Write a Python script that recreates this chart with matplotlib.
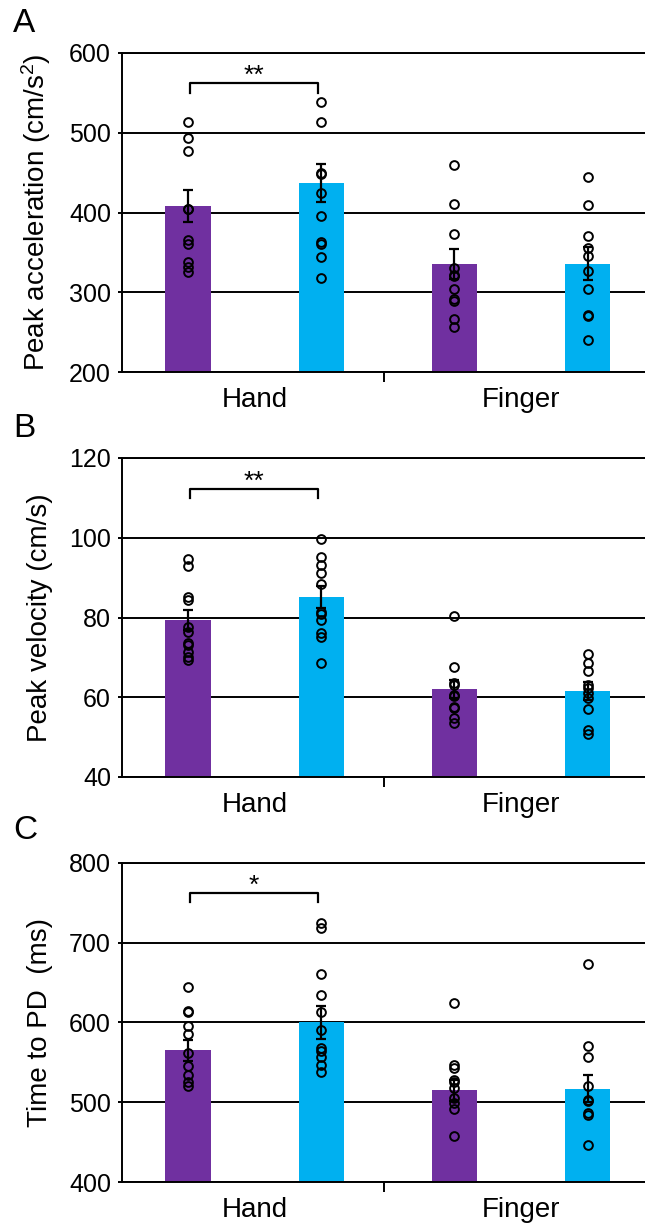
import numpy as np
import matplotlib
import matplotlib.pyplot as plt

matplotlib.use("Agg")

plt.rcParams["font.family"] = ["Liberation Sans", "DejaVu Sans"]
plt.rcParams["mathtext.default"] = "regular"

PURPLE = "#7030A0"
BLUE = "#00B0F0"

categories = ["Hand", "Finger"]

# panel A: peak acceleration (cm/s^2)
acc_means = [408, 437, 335, 336]
acc_sems = [20, 24, 19, 21]
acc_points = [
    [514, 493, 477, 405, 404, 365, 360, 338, 332, 326],
    [538, 513, 450, 448, 424, 395, 363, 360, 344, 318],
    [459, 411, 373, 330, 322, 320, 304, 291, 289, 266, 257],
    [445, 409, 370, 356, 346, 327, 304, 271, 270, 240],
]

# panel B: peak velocity (cm/s)
vel_means = [79.3, 85.2, 62.0, 61.5]
vel_sems = [2.5, 2.7, 2.3, 2.3]
vel_points = [
    [94.7, 92.9, 85.2, 84.5, 77.7, 76.4, 73.5, 73.1, 71.4, 70.2, 69.3],
    [99.6, 95.1, 93.2, 91.1, 88.4, 81.5, 80.9, 79.4, 76.2, 75.0, 68.5],
    [80.5, 67.5, 63.5, 63.1, 60.6, 60.2, 57.6, 57.4, 54.7, 53.6],
    [70.8, 68.7, 66.7, 63.1, 62.2, 61.1, 59.7, 57.0, 51.8, 50.8],
]

# panel C: time to PD (ms)
tpd_means = [565, 600, 515, 517]
tpd_sems = [13, 21, 13, 17]
tpd_points = [
    [645, 614, 613, 595, 585, 562, 545, 534, 525, 520],
    [725, 718, 661, 634, 613, 590, 568, 564, 557, 547, 538],
    [624, 547, 543, 528, 525, 518, 505, 499, 491, 458],
    [673, 570, 557, 520, 503, 501, 486, 484, 447],
]

panels = [
    dict(letter="A", ylabel="Peak acceleration (cm/s$^{2}$)", means=acc_means, sems=acc_sems,
         points=acc_points, ylim=(200, 600), yticks=[200, 300, 400, 500, 600],
         sig="**", br_top=562, br_low=550),
    dict(letter="B", ylabel="Peak velocity (cm/s)", means=vel_means, sems=vel_sems,
         points=vel_points, ylim=(40, 120), yticks=[40, 60, 80, 100, 120],
         sig="**", br_top=112.3, br_low=110),
    dict(letter="C", ylabel="Time to PD  (ms)", means=tpd_means, sems=tpd_sems,
         points=tpd_points, ylim=(400, 800), yticks=[400, 500, 600, 700, 800],
         sig="*", br_top=762, br_low=751),
]

W, H = 645, 1226
fig = plt.figure(figsize=(W / 100, H / 100), dpi=100)

tops = [53, 458, 863]
letter_tops = [8, 413, 815]
ax_h = 319
x = np.arange(4)
colors = [PURPLE, BLUE, PURPLE, BLUE]

for p, top, ltop in zip(panels, tops, letter_tops):
    ax = fig.add_axes([122 / W, 1 - (top + ax_h) / H, 523 / W, ax_h / H])
    ax.set_xlim(-0.495, 3.43)
    ax.set_ylim(*p["ylim"])
    ax.set_yticks(p["yticks"])
    ax.set_axisbelow(True)
    ax.yaxis.grid(True, color="black", lw=1.4)

    ax.bar(x, p["means"], width=0.34, color=colors, zorder=2)
    for xi, pts in zip(x, p["points"]):
        ax.plot(np.full(len(pts), xi), pts, "o", mfc="none", mec="black",
                ms=6.3, mew=1.4, zorder=3, clip_on=False)
    ax.errorbar(x, p["means"], yerr=p["sems"], fmt="none", ecolor="black",
                elinewidth=1.6, capsize=3.5, capthick=1.6, zorder=4)

    # significance bracket between hand bars
    x0, x1 = 0.015, 0.975
    ax.plot([x0, x0, x1, x1], [p["br_low"], p["br_top"], p["br_top"], p["br_low"]],
            color="black", lw=1.6, zorder=5)
    ax.text((x0 + x1) / 2, p["br_top"], p["sig"], ha="center", va="baseline", fontsize=19)

    ax.spines["right"].set_visible(False)
    for s in ["left", "top", "bottom"]:
        ax.spines[s].set_linewidth(1.4)

    ax.set_xticks([1.47])
    ax.set_xticklabels([""])
    ax.tick_params(axis="x", which="major", length=7, width=1.4, direction="out")
    ax.set_xticks([0.5, 2.5], minor=True)
    ax.set_xticklabels(categories, minor=True, fontsize=20)
    ax.tick_params(axis="x", which="minor", length=0, pad=11)
    ax.tick_params(axis="y", length=3, width=1.4, pad=5, labelsize=18)

    ax.set_ylabel(p["ylabel"], fontsize=20)
    ax.yaxis.set_label_coords(-0.132, 0.5)

    fig.text(13 / W, 1 - ltop / H, p["letter"], ha="left", va="top", fontsize=24)

fig.savefig("out.png", dpi=100)
